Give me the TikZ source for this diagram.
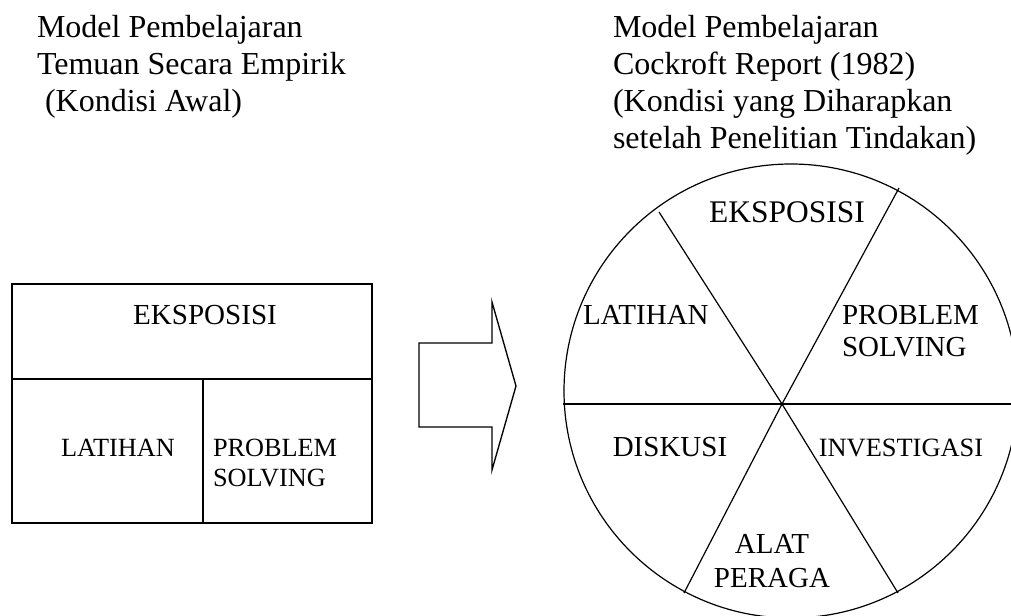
\documentclass[tikz,border=0pt]{standalone}
\usepackage{fontspec}
\setmainfont{Liberation Serif}
\newcommand{\mystack}[2][l]{\begin{tabular}[t]{@{}#1@{}}#2\end{tabular}}
\tikzset{
  lbl/.style={inner sep=0pt, outer sep=0pt},
  titletext/.style={lbl, font=\fontsize{24}{27.75}\selectfont},
  boxbig/.style={lbl, font=\fontsize{21.8}{25}\selectfont},
  boxlab/.style={lbl, font=\fontsize{19.7}{22.5}\selectfont},
  circbig/.style={lbl, font=\fontsize{23.6}{27}\selectfont},
  circlab/.style={lbl, font=\fontsize{21.75}{24}\selectfont},
  circlow/.style={lbl, font=\fontsize{21.75}{25.5}\selectfont},
  circsmall/.style={lbl, font=\fontsize{19.8}{22.5}\selectfont},
  boxline/.style={line width=1pt, line join=miter},
  circline/.style={line width=0.9pt},
}
\begin{document}
\begin{tikzpicture}[x=0.75pt, y=-0.75pt]
\useasboundingbox (0,0) rectangle (1011,616);

% titles
\node[titletext, anchor=base west] (tleft) at (37,38)
  {\mystack{Model Pembelajaran\\Temuan Secara Empirik\\\ (Kondisi Awal)}};
\node[titletext, anchor=base west] (tright) at (613,38)
  {\mystack{Model Pembelajaran\\Cockroft Report (1982)\\(Kondisi yang Diharapkan\\setelah Penelitian Tindakan)}};

% left box
\draw[boxline] (12,284) rectangle (372,523);
\draw[boxline] (12,379) -- (372,379);
\draw[boxline] (203,379) -- (203,523);
\node[boxbig, anchor=base] (leks) at (205,325) {EKSPOSISI};
\node[boxlab, anchor=base west] (llat) at (61,457) {LATIHAN};
\node[boxlab, anchor=base west] (lprob) at (213,457) {\mystack{PROBLEM\\SOLVING}};

% block arrow
\draw[boxline] (419,343) -- (492,343) -- (492,302) -- (516,386) -- (492,470)
  -- (492,427) -- (419,427) -- cycle;

% circle
\draw[circline] (791,391) circle[x radius=227, y radius=227];
\coordinate (o) at (782,404);
\coordinate (ul) at (659,212);
\coordinate (ur) at (899,188);
\coordinate (bl) at (684,593);
\coordinate (br) at (898,593);
\coordinate (lf) at (563,404);
\coordinate (rt) at (1020,404);
\draw[circline] (ul) -- (o);
\draw[circline] (o) -- (br);
\draw[circline] (ur) -- (o);
\draw[circline] (o) -- (bl);
\draw[circline] (lf) -- (rt);

\node[circbig, anchor=base] (ceks) at (787,223) {EKSPOSISI};
\node[circlab, anchor=base west] (clat) at (583,325) {LATIHAN};
\node[circlab, anchor=base west] (cprob) at (842,325) {\mystack{PROBLEM\\SOLVING}};
\node[circlab, anchor=base] (cdis) at (670,457) {DISKUSI};
\node[circsmall, anchor=base] (cinv) at (901,457) {INVESTIGASI};
\node[circlow, anchor=base] (calat) at (772,554) {\mystack[c]{ALAT\\PERAGA}};
\end{tikzpicture}
\end{document}
